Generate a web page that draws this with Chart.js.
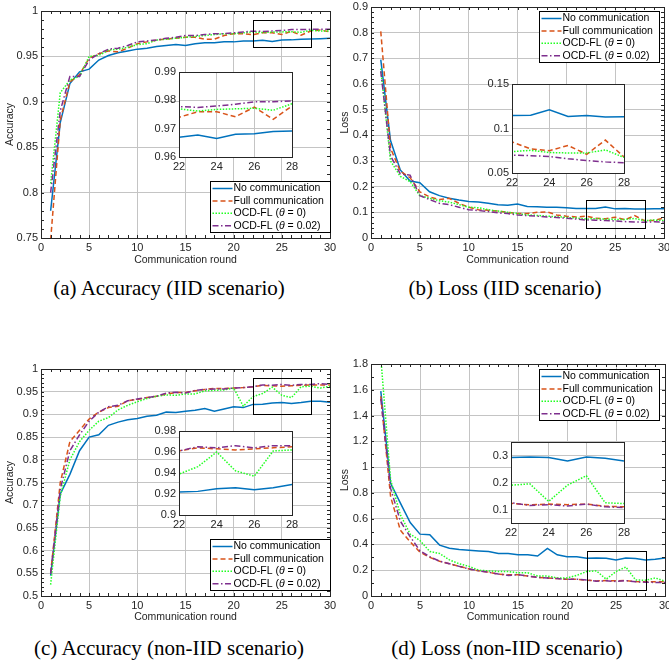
<!DOCTYPE html>
<html>
<head>
<meta charset="utf-8">
<script src="https://cdn.jsdelivr.net/npm/chart.js@4.4.1/dist/chart.umd.min.js"></script>
<style>
  body { margin: 0; width: 669px; height: 662px; position: relative; overflow: hidden; background: #fff; }
  .cap { position: absolute; font-family: "Liberation Serif", "Times New Roman", serif; font-size: 21px;
         line-height: 24px; color: #000; white-space: nowrap; transform: translateX(-50%); }
</style>
</head>
<body>
<div class="cap" style="left:169px;top:276px">(a) Accuracy (IID scenario)</div>
<div class="cap" style="left:505px;top:276px">(b) Loss (IID scenario)</div>
<div class="cap" style="left:169px;top:636px">(c) Accuracy (non-IID scenario)</div>
<div class="cap" style="left:507px;top:636px">(d) Loss (non-IID scenario)</div>
<script>
// ---- data ----
const rounds = [1, 2, 3, 4, 5, 6, 7, 8, 9, 10, 11, 12, 13, 14, 15, 16, 17, 18, 19, 20, 21, 22, 23, 24, 25, 26, 27, 28, 29, 30];
const seriesNames = ["No communication", "Full communication", "OCD-FL (θ = 0)", "OCD-FL (θ = 0.02)"];

// (a) accuracy, IID
const accIidNone = [0.780, 0.877, 0.920, 0.933, 0.936, 0.946, 0.951, 0.954, 0.956, 0.958, 0.959, 0.961, 0.962, 0.963, 0.962, 0.964, 0.965, 0.965, 0.966, 0.966, 0.967, 0.967, 0.9678, 0.9665, 0.968, 0.9682, 0.969, 0.9692, 0.9695, 0.970];
const accIidFull = [0.748, 0.880, 0.922, 0.930, 0.948, 0.953, 0.956, 0.955, 0.959, 0.964, 0.966, 0.968, 0.969, 0.970, 0.971, 0.971, 0.969, 0.969, 0.973, 0.975, 0.975, 0.974, 0.976, 0.976, 0.9742, 0.9776, 0.9733, 0.978, 0.979, 0.977];
const accIidOcd0 = [0.810, 0.910, 0.924, 0.928, 0.950, 0.951, 0.957, 0.958, 0.960, 0.963, 0.964, 0.968, 0.969, 0.970, 0.971, 0.972, 0.973, 0.974, 0.975, 0.975, 0.976, 0.977, 0.9762, 0.9768, 0.977, 0.9772, 0.9765, 0.9788, 0.978, 0.978];
const accIidOcd02 = [0.800, 0.890, 0.928, 0.928, 0.946, 0.953, 0.958, 0.959, 0.962, 0.966, 0.967, 0.968, 0.970, 0.971, 0.973, 0.973, 0.974, 0.975, 0.975, 0.976, 0.977, 0.9778, 0.9775, 0.978, 0.9786, 0.9795, 0.9795, 0.9798, 0.980, 0.980];

// (b) loss, IID
const lossIidNone = [0.695, 0.380, 0.265, 0.222, 0.215, 0.180, 0.165, 0.155, 0.148, 0.142, 0.140, 0.135, 0.130, 0.128, 0.132, 0.123, 0.122, 0.120, 0.120, 0.118, 0.115, 0.1145, 0.1148, 0.121, 0.1135, 0.1145, 0.1128, 0.1132, 0.114, 0.114];
const lossIidFull = [0.805, 0.350, 0.260, 0.235, 0.180, 0.160, 0.150, 0.155, 0.135, 0.120, 0.110, 0.108, 0.105, 0.100, 0.095, 0.095, 0.100, 0.102, 0.090, 0.085, 0.082, 0.085, 0.077, 0.075, 0.081, 0.071, 0.087, 0.068, 0.068, 0.078];
const lossIidOcd0 = [0.660, 0.300, 0.240, 0.220, 0.165, 0.155, 0.145, 0.140, 0.130, 0.120, 0.118, 0.110, 0.105, 0.100, 0.095, 0.090, 0.088, 0.085, 0.083, 0.080, 0.078, 0.074, 0.0755, 0.073, 0.0725, 0.0725, 0.076, 0.0675, 0.070, 0.068];
const lossIidOcd02 = [0.650, 0.320, 0.250, 0.245, 0.165, 0.150, 0.135, 0.130, 0.120, 0.110, 0.107, 0.103, 0.098, 0.095, 0.090, 0.087, 0.085, 0.082, 0.080, 0.077, 0.074, 0.070, 0.0695, 0.0685, 0.066, 0.064, 0.0625, 0.0615, 0.063, 0.062];

// (c) accuracy, non-IID
const accNonNone = [0.545, 0.725, 0.768, 0.820, 0.850, 0.855, 0.876, 0.883, 0.888, 0.891, 0.896, 0.898, 0.905, 0.904, 0.907, 0.909, 0.913, 0.907, 0.912, 0.917, 0.915, 0.922, 0.9225, 0.925, 0.926, 0.924, 0.926, 0.929, 0.929, 0.927];
const accNonFull = [0.550, 0.750, 0.840, 0.865, 0.890, 0.905, 0.915, 0.918, 0.930, 0.933, 0.937, 0.940, 0.945, 0.948, 0.948, 0.952, 0.955, 0.957, 0.957, 0.958, 0.959, 0.961, 0.964, 0.963, 0.962, 0.963, 0.964, 0.965, 0.965, 0.965];
const accNonOcd0 = [0.525, 0.720, 0.800, 0.840, 0.865, 0.885, 0.893, 0.910, 0.920, 0.928, 0.935, 0.940, 0.943, 0.942, 0.945, 0.945, 0.952, 0.953, 0.954, 0.958, 0.918, 0.939, 0.946, 0.960, 0.942, 0.937, 0.961, 0.962, 0.958, 0.962];
const accNonOcd02 = [0.550, 0.735, 0.820, 0.855, 0.885, 0.905, 0.917, 0.920, 0.930, 0.934, 0.937, 0.940, 0.947, 0.949, 0.947, 0.953, 0.955, 0.956, 0.956, 0.958, 0.959, 0.961, 0.965, 0.964, 0.966, 0.964, 0.966, 0.966, 0.968, 0.966];

// (d) loss, non-IID
const lossNonNone = [1.590, 0.875, 0.720, 0.570, 0.480, 0.475, 0.395, 0.370, 0.360, 0.355, 0.350, 0.345, 0.330, 0.330, 0.320, 0.320, 0.310, 0.370, 0.320, 0.305, 0.305, 0.293, 0.294, 0.293, 0.280, 0.294, 0.290, 0.280, 0.285, 0.295];
const lossNonFull = [1.550, 0.770, 0.510, 0.420, 0.340, 0.300, 0.270, 0.250, 0.230, 0.210, 0.195, 0.185, 0.170, 0.165, 0.165, 0.155, 0.145, 0.140, 0.135, 0.130, 0.130, 0.123, 0.117, 0.120, 0.118, 0.120, 0.112, 0.110, 0.110, 0.110];
const lossNonOcd0 = [1.850, 0.900, 0.630, 0.480, 0.430, 0.345, 0.330, 0.280, 0.250, 0.230, 0.200, 0.195, 0.190, 0.190, 0.180, 0.180, 0.155, 0.155, 0.140, 0.140, 0.160, 0.190, 0.195, 0.130, 0.190, 0.225, 0.125, 0.122, 0.140, 0.115];
const lossNonOcd02 = [1.530, 0.835, 0.580, 0.460, 0.350, 0.305, 0.270, 0.250, 0.230, 0.210, 0.195, 0.185, 0.170, 0.160, 0.165, 0.155, 0.145, 0.140, 0.135, 0.130, 0.130, 0.125, 0.115, 0.118, 0.113, 0.120, 0.110, 0.107, 0.105, 0.105];

// tick values
const xTicksMain = [0, 5, 10, 15, 20, 25, 30];
const xTicksInset = [22, 24, 26, 28];
const accIidTicks = [0.75, 0.8, 0.85, 0.9, 0.95, 1];
const lossIidTicks = [0, 0.1, 0.2, 0.3, 0.4, 0.5, 0.6, 0.7, 0.8, 0.9];
const accNonTicks = [0.5, 0.55, 0.6, 0.65, 0.7, 0.75, 0.8, 0.85, 0.9, 0.95, 1];
const lossNonTicks = [0, 0.2, 0.4, 0.6, 0.8, 1, 1.2, 1.4, 1.6, 1.8];
const accIidInsetTicks = [0.96, 0.97, 0.98, 0.99];
const lossIidInsetTicks = [0.05, 0.1, 0.15];
const accNonInsetTicks = [0.9, 0.92, 0.94, 0.96, 0.98];
const lossNonInsetTicks = [0.1, 0.2, 0.3];

// ---- styles ----
const colors = ["#0072bd", "#d95319", "#22ff22", "#7e2f8e"];
const dashes = [[], [5, 3], [1.5, 1.5], [6, 2.5, 1.5, 2.5]];
const FONT = "'Liberation Sans', Arial, Helvetica, sans-serif";
const AXIS = "#262626";
const GRID = "#c4c4c4";

Chart.defaults.font.family = FONT;

const fmt = (v) => String(Math.round(v * 1000) / 1000);

// box around the axes, minor ticks and the zoom rectangle
const frame = {
  id: "frame",
  beforeDraw(chart, args, o) {
    if (!o.fill) return;
    const a = chart.chartArea;
    chart.ctx.save();
    chart.ctx.fillStyle = "#fff";
    chart.ctx.fillRect(a.left, a.top, a.width, a.height);
    chart.ctx.restore();
  },
  afterDatasetsDraw(chart, args, o) {
    const { ctx, chartArea: a, scales } = chart;
    ctx.save();
    ctx.strokeStyle = AXIS;
    ctx.lineWidth = 1;
    ctx.beginPath();
    if (o.minorX) {
      const n = Math.round((scales.x.max - scales.x.min) / o.minorX);
      for (let i = 0; i <= n; i++) {
        const px = Math.round(scales.x.getPixelForValue(scales.x.min + i * o.minorX)) + 0.5;
        ctx.moveTo(px, a.bottom); ctx.lineTo(px, a.bottom - 3);
        ctx.moveTo(px, a.top); ctx.lineTo(px, a.top + 3);
      }
    }
    if (o.minorY) {
      const n = Math.round((scales.y.max - scales.y.min) / o.minorY);
      for (let i = 0; i <= n; i++) {
        const py = Math.round(scales.y.getPixelForValue(scales.y.min + i * o.minorY)) + 0.5;
        ctx.moveTo(a.left, py); ctx.lineTo(a.left + 3, py);
        ctx.moveTo(a.right, py); ctx.lineTo(a.right - 3, py);
      }
    }
    ctx.stroke();
    if (o.zoom) {
      const x0 = scales.x.getPixelForValue(22), x1 = scales.x.getPixelForValue(28);
      const y0 = scales.y.getPixelForValue(o.zoom[1]), y1 = scales.y.getPixelForValue(o.zoom[0]);
      ctx.strokeStyle = "#000";
      ctx.strokeRect(Math.round(x0) + 0.5, Math.round(y0) + 0.5, Math.round(x1 - x0), Math.round(y1 - y0));
    }
    ctx.strokeStyle = AXIS;
    ctx.strokeRect(Math.round(a.left) + 0.5, Math.round(a.top) + 0.5, Math.round(a.width), Math.round(a.height));
    ctx.restore();
  },
};

// MATLAB-like legend box inside the axes
const boxLegend = {
  id: "boxLegend",
  afterDraw(chart, args, o) {
    if (!o.show) return;
    const { ctx, chartArea: a } = chart;
    ctx.save();
    const normal = "10.5px " + FONT;
    const italic = "italic 10.5px " + FONT;
    ctx.font = normal;
    const textW = Math.max(...seriesNames.map((n) => ctx.measureText(n).width));
    const w = Math.round(23 + textW + 7), h = 51;
    const x0 = Math.round(a.right - o.right - w) + 0.5;
    const y0 = Math.round(o.anchor === "top" ? a.top + o.offset : a.bottom - o.offset - h) + 0.5;
    ctx.fillStyle = "#fff";
    ctx.fillRect(x0, y0, w, h);
    ctx.strokeStyle = "#000";
    ctx.lineWidth = 1;
    ctx.strokeRect(x0, y0, w, h);
    ctx.textBaseline = "middle";
    chart.data.datasets.forEach((ds, k) => {
      const y = y0 + 7 + k * 12.4;
      ctx.strokeStyle = ds.borderColor;
      ctx.lineWidth = 1.5;
      ctx.setLineDash(ds.borderDash);
      ctx.beginPath();
      ctx.moveTo(x0 + 2, y);
      ctx.lineTo(x0 + 22, y);
      ctx.stroke();
      ctx.setLineDash([]);
      ctx.fillStyle = "#000";
      let tx = x0 + 23;
      const parts = seriesNames[k].split("θ");
      parts.forEach((part, j) => {
        ctx.font = normal;
        ctx.fillText(part, tx, y);
        tx += ctx.measureText(part).width;
        if (j < parts.length - 1) {
          ctx.font = italic;
          ctx.fillText("θ", tx, y);
          tx += ctx.measureText("θ").width;
        }
      });
    });
    ctx.restore();
  },
};

function makeCanvas(box) {
  const c = document.createElement("canvas");
  c.width = box.w;
  c.height = box.h;
  c.style.cssText = `position:absolute;left:${box.x}px;top:${box.y}px;width:${box.w}px;height:${box.h}px`;
  document.body.appendChild(c);
  return c;
}

function drawPanel(p) {
  const canvas = makeCanvas(p.box);
  const padTop = p.area.t - p.box.y;
  const padRight = p.box.x + p.box.w - p.area.r;
  const yW = p.area.l - p.box.x;
  const xH = p.box.y + p.box.h - p.area.b;
  const tickFont = { family: FONT, size: 11 };
  const titleFont = { family: FONT, size: 10.5 };
  return new Chart(canvas, {
    type: "line",
    data: {
      datasets: p.series.map((arr, k) => ({
        label: seriesNames[k],
        data: rounds.map((r, i) => ({ x: r, y: arr[i] })),
        borderColor: colors[k],
        borderDash: dashes[k],
        borderWidth: 1.5,
        pointRadius: 0,
        tension: 0,
        fill: false,
        order: 4 - k,
      })),
    },
    options: {
      responsive: false,
      animation: false,
      devicePixelRatio: 1,
      layout: { padding: { top: padTop, right: padRight, left: 0, bottom: 0 } },
      plugins: {
        legend: { display: false },
        tooltip: { enabled: false },
        frame: { fill: p.inset, minorX: p.minorX, minorY: p.minorY, zoom: p.zoom },
        boxLegend: p.legend ? Object.assign({ show: true }, p.legend) : { show: false },
      },
      scales: {
        x: {
          type: "linear",
          min: p.xr[0],
          max: p.xr[1],
          afterBuildTicks: (s) => { s.ticks = p.xt.map((v) => ({ value: v })); },
          afterFit: (s) => { s.height = xH; s.paddingLeft = 0; s.paddingRight = 0; },
          grid: { color: GRID, drawTicks: false },
          border: { display: false },
          ticks: { font: tickFont, color: AXIS, padding: 3, maxRotation: 0, autoSkip: false, callback: fmt },
          title: { display: !p.inset, text: "Communication round", font: titleFont, color: AXIS, padding: { top: 2, bottom: 4 } },
        },
        y: {
          type: "linear",
          min: p.yr[0],
          max: p.yr[1],
          afterBuildTicks: (s) => { s.ticks = p.yt.map((v) => ({ value: v })); },
          afterFit: (s) => { s.width = yW; s.paddingTop = 0; s.paddingBottom = 0; },
          grid: { color: GRID, drawTicks: false },
          border: { display: false },
          ticks: { font: tickFont, color: AXIS, padding: 3, autoSkip: false, callback: fmt },
          title: { display: !p.inset, text: p.yTitle || "", font: titleFont, color: AXIS, padding: { top: 4, bottom: 4 } },
        },
      },
    },
    plugins: [frame, boxLegend],
  });
}

// ---- main axes ----
drawPanel({
  box: { x: 0, y: 0, w: 340, h: 270 }, area: { l: 41, t: 11, r: 330, b: 238 },
  series: [accIidNone, accIidFull, accIidOcd0, accIidOcd02],
  xr: [0, 30], xt: xTicksMain, yr: [0.75, 1], yt: accIidTicks, yTitle: "Accuracy",
  minorX: 1, minorY: 0.01, zoom: [0.96, 0.99],
  legend: { anchor: "bottom", right: 0, offset: 6 },
});
drawPanel({
  box: { x: 335, y: 0, w: 334, h: 270 }, area: { l: 371, t: 7, r: 664, b: 238 },
  series: [lossIidNone, lossIidFull, lossIidOcd0, lossIidOcd02],
  xr: [0, 30], xt: xTicksMain, yr: [0, 0.9], yt: lossIidTicks, yTitle: "Loss",
  minorX: 1, minorY: 0.02, zoom: [0.04, 0.15],
  legend: { anchor: "top", right: 5, offset: 4 },
});
drawPanel({
  box: { x: 0, y: 330, w: 340, h: 297 }, area: { l: 41, t: 369, r: 330, b: 596 },
  series: [accNonNone, accNonFull, accNonOcd0, accNonOcd02],
  xr: [0, 30], xt: xTicksMain, yr: [0.5, 1], yt: accNonTicks, yTitle: "Accuracy",
  minorX: 1, minorY: 0.01, zoom: [0.9, 0.98],
  legend: { anchor: "bottom", right: 0, offset: 6 },
});
drawPanel({
  box: { x: 335, y: 330, w: 334, h: 297 }, area: { l: 371, t: 364, r: 665, b: 596 },
  series: [lossNonNone, lossNonFull, lossNonOcd0, lossNonOcd02],
  xr: [0, 30], xt: xTicksMain, yr: [0, 1.8], yt: lossNonTicks, yTitle: "Loss",
  minorX: 1, minorY: 0.1, zoom: [0.05, 0.35],
  legend: { anchor: "top", right: 6, offset: 5 },
});

// ---- zoomed insets (rounds 22-28) ----
drawPanel({
  inset: true, box: { x: 140, y: 62, w: 160, h: 116 }, area: { l: 179, t: 72, r: 292, b: 157 },
  series: [accIidNone, accIidFull, accIidOcd0, accIidOcd02],
  xr: [22, 28], xt: xTicksInset, yr: [0.96, 0.99], yt: accIidInsetTicks,
});
drawPanel({
  inset: true, box: { x: 470, y: 74, w: 164, h: 118 }, area: { l: 512, t: 84, r: 624, b: 173 },
  series: [lossIidNone, lossIidFull, lossIidOcd0, lossIidOcd02],
  xr: [22, 28], xt: xTicksInset, yr: [0.05, 0.15], yt: lossIidInsetTicks,
});
drawPanel({
  inset: true, box: { x: 140, y: 420, w: 160, h: 116 }, area: { l: 179, t: 431, r: 292, b: 515 },
  series: [accNonNone, accNonFull, accNonOcd0, accNonOcd02],
  xr: [22, 28], xt: xTicksInset, yr: [0.9, 0.98], yt: accNonInsetTicks,
});
drawPanel({
  inset: true, box: { x: 470, y: 432, w: 164, h: 110 }, area: { l: 511, t: 442, r: 624, b: 523 },
  series: [lossNonNone, lossNonFull, lossNonOcd0, lossNonOcd02],
  xr: [22, 28], xt: xTicksInset, yr: [0.05, 0.35], yt: lossNonInsetTicks,
});
</script>
</body>
</html>
